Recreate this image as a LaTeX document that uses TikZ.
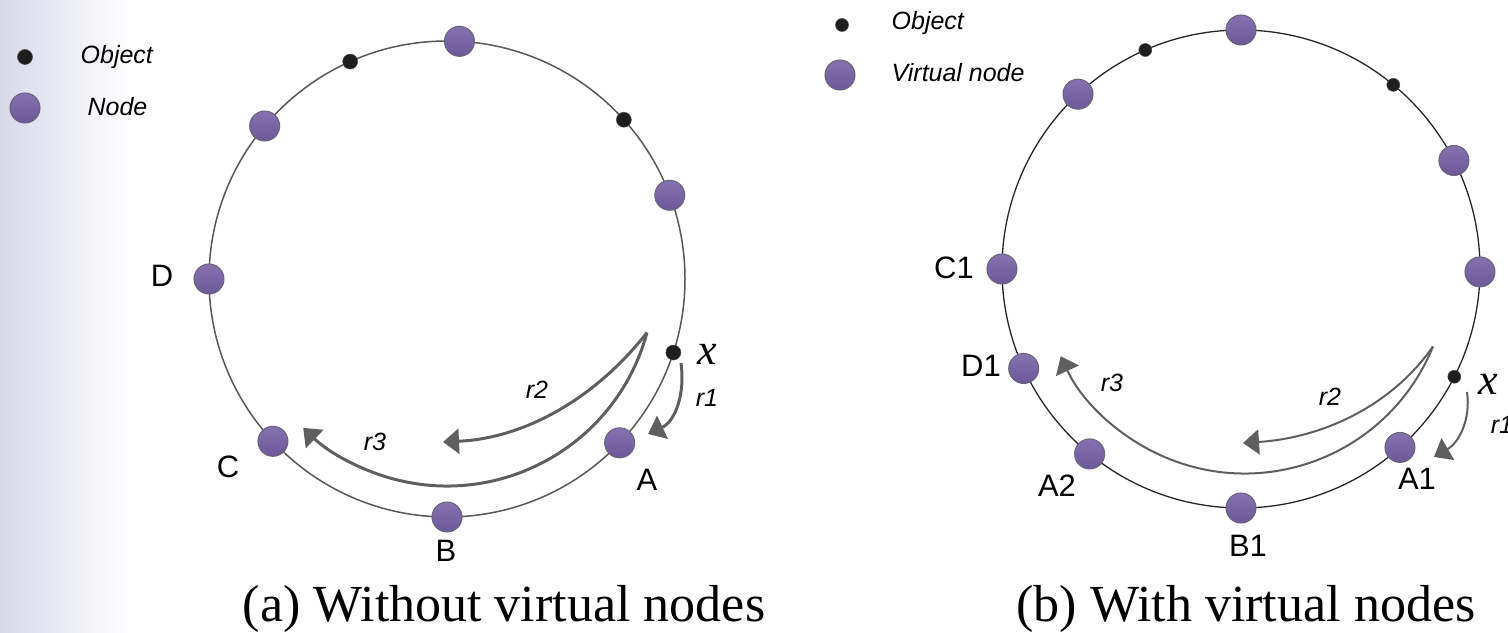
\documentclass[tikz,border=0pt]{standalone}
\usepackage{fontspec}
\setmainfont{Liberation Serif}
\setsansfont{Liberation Sans}
\usetikzlibrary{arrows.meta}

\definecolor{nodeTop}{RGB}{134,113,176}
\definecolor{nodeBot}{RGB}{108,88,153}
\definecolor{nodeEdge}{RGB}{105,100,120}
\definecolor{objFill}{RGB}{30,30,30}
\definecolor{ringA}{RGB}{88,88,88}
\definecolor{ringB}{RGB}{38,38,38}
\definecolor{flowGray}{RGB}{95,95,95}
\definecolor{bgLav}{RGB}{216,216,234}

\tikzset{
  vnode/.style={circle, draw=nodeEdge, line width=0.1mm, top color=nodeTop, bottom color=nodeBot, minimum size=3mm, inner sep=0pt},
  obj/.style={circle, fill=objFill, draw=black!70, line width=0.05mm, minimum size=1.5mm, inner sep=0pt},
  lab/.style={font=\sffamily\fontsize{8.8}{10}\selectfont, inner sep=0pt},
  leg/.style={font=\sffamily\itshape\fontsize{7.1}{8}\selectfont, inner sep=0pt},
  xlab/.style={font=\rmfamily\itshape\fontsize{12.5}{14}\selectfont, inner sep=0pt},
  captext/.style={font=\rmfamily\fontsize{14.8}{17}\selectfont, inner sep=0pt},
  flow/.style={draw=flowGray, line width=0.3mm, -{Triangle[length=1.6mm,width=2.5mm]}},
  thinflow/.style={flow, line width=0.2mm},
}

\begin{document}
\begin{tikzpicture}[x=0.01cm, y=0.01cm]
  \useasboundingbox (0,0) rectangle (1508,633);
  \shade[left color=bgLav, right color=white] (0,0) rectangle (130,633);

  % legend (a)
  \node[obj] (legObjA) at (25,576) {};
  \node[leg, anchor=west] (legObjAt) at (80,576) {Object};
  \node[vnode] (legNodeA) at (25,525) {};
  \node[leg, anchor=west] (legNodeAt) at (87,526) {Node};

  % ring (a)
  \begin{scope}[shift={(447,354)}]
    \draw[ringA, line width=0.15mm] (0,0) circle (238);
    \node[obj] (oA1) at (114:238) {};
    \node[obj] (oA2) at (42:238) {};
    \node[obj] (xA) at (342:238) {};
    \node[vnode] (nTop) at (87:238) {};
    \node[vnode] (nUL) at (140:238) {};
    \node[vnode] (D) at (180:238) {};
    \node[vnode] (C) at (223:238) {};
    \node[vnode] (B) at (270:238) {};
    \node[vnode] (A) at (316.5:238) {};
    \node[vnode] (nUR) at (20.6:238) {};
    \coordinate (cuspA) at (-15:207);
  \end{scope}

  \node[lab] (labA) at (647,153) {A};
  \node[lab] (labB) at (446,82) {B};
  \node[lab] (labC) at (228,166) {C};
  \node[lab] (labD) at (162,357) {D};
  \node[xlab] (labxA) at (707,279) {x};

  \coordinate (r1sA) at (681,270);
  \coordinate (r1eA) at (648,199);
  \coordinate (r2eA) at (443,191);
  \draw[flow] (r1sA) to[out=-82, in=25] (r1eA);
  \draw[flow] (cuspA) .. controls (600,240) and (530,195) .. (r2eA);
  \draw[flow] (cuspA) arc[start angle=-15, end angle=-134, radius=207];

  \node[leg] (r1A) at (707,235) {r1};
  \node[leg] (r2A) at (537,243) {r2};
  \node[leg] (r3A) at (375,191) {r3};

  \node[captext, anchor=base west] (capA) at (242,11) {(a) Without virtual nodes};

  % legend (b)
  \node[obj, minimum size=1.3mm] (legObjB) at (842,608) {};
  \node[leg, anchor=west] (legObjBt) at (891,610) {Object};
  \node[vnode] (legNodeB) at (840,558) {};
  \node[leg, anchor=west] (legNodeBt) at (891,560) {Virtual node};

  % ring (b)
  \begin{scope}[shift={(1241,364)}]
    \draw[ringB, line width=0.13mm] (0,0) circle (239);
    \node[obj, minimum size=1.3mm] (oB1) at (113.6:239) {};
    \node[obj, minimum size=1.3mm] (oB2) at (50.4:239) {};
    \node[obj, minimum size=1.3mm] (xB) at (333.2:239) {};
    \node[vnode] (vTop) at (90:239) {};
    \node[vnode] (vUL) at (133:239) {};
    \node[vnode] (C1) at (180:239) {};
    \node[vnode] (D1) at (204.6:239) {};
    \node[vnode] (A2) at (230.7:239) {};
    \node[vnode] (B1) at (270:239) {};
    \node[vnode] (A1) at (311.7:239) {};
    \node[vnode] (vR) at (359.3:239) {};
    \node[vnode] (vUR) at (27:239) {};
    \coordinate (cuspB) at (-22:207);
  \end{scope}

  \node[lab] (labA1) at (1417,154) {A1};
  \node[lab] (labA2) at (1057,147) {A2};
  \node[lab] (labB1) at (1248,87) {B1};
  \node[lab] (labC1) at (954,365) {C1};
  \node[lab] (labD1) at (981,267) {D1};
  \node[xlab] (labxB) at (1488,249) {x};

  \coordinate (r1sB) at (1467,241);
  \coordinate (r1eB) at (1434,176);
  \coordinate (r2eB) at (1243,190);
  \draw[thinflow] (r1sB) to[out=-82, in=30] (r1eB);
  \draw[thinflow] (cuspB) .. controls (1390,225) and (1320,195) .. (r2eB);
  \draw[thinflow] (cuspB) arc[start angle=-22, end angle=-155, radius=203];

  \node[leg] (r1B) at (1502,208) {r1};
  \node[leg] (r2B) at (1330,236) {r2};
  \node[leg] (r3B) at (1112,250) {r3};

  \node[captext, anchor=base] (capB) at (1246,11) {(b) With virtual nodes};
\end{tikzpicture}
\end{document}
